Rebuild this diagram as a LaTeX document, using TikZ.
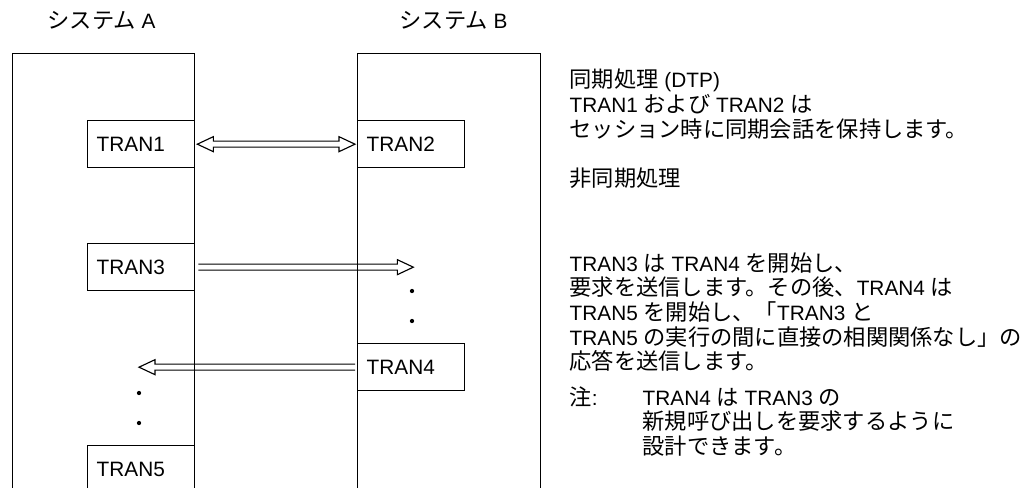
\documentclass[tikz,border=0pt]{standalone}
\usepackage{fontspec}
\setmainfont{Liberation Sans}
\newfontfamily\cjk[Scale=1.07]{Noto Sans CJK JP}
\usetikzlibrary{calc}
\newcommand\jp[1]{{\cjk #1}}
\begin{document}
\begin{tikzpicture}[x=0.75pt,y=-0.75pt, line width=1pt,
  every node/.style={font=\fontsize{15.6}{18.75}\selectfont},
  frame/.style={draw, anchor=north west, inner sep=0pt, minimum height=335.25pt},
  tbox/.style={draw, fill=white, anchor=north west, minimum height=35.25pt, minimum width=80.25pt,
     inner xsep=6.75pt, inner ysep=0pt, text width=66.75pt, align=left},
  txt/.style={anchor=base west, inner sep=0pt},
  title/.style={anchor=base, inner sep=0pt},
  dot/.style={circle, fill, inner sep=0pt, minimum size=3.2pt},
  hollow/.style={line width=0.85pt, line join=miter}
]
\useasboundingbox (0,0) rectangle (1024,487);
\clip (0,0) rectangle (1024,487);

% titles
\node[title] (ta) at (101.5,28.5) {\jp{システム} A};
\node[title] (tb) at (453.5,28.5) {\jp{システム} B};

% system frames
\node[frame, minimum width=136.5pt] (sysA) at (12,53) {};
\node[frame, minimum width=137.25pt] (sysB) at (357,53) {};

% transaction boxes
\node[tbox] (t1) at (87,120) {TRAN1};
\node[tbox] (t2) at (357,120) {TRAN2};
\node[tbox] (t3) at (87,243) {TRAN3};
\node[tbox] (t4) at (357,343) {TRAN4};
\node[tbox] (t5) at (87,445) {TRAN5};

% connector anchors
\coordinate (a1) at ($(t1.east)+(2,0)$);
\coordinate (b1) at ($(t2.west)+(-2,0)$);
\coordinate (a3) at ($(t3.east)+(3,0)$);
\coordinate (b3) at ($(t3.east)+(218,0)$);
\coordinate (a4) at ($(t4.west)+(-2,0)$);
\coordinate (b4) at ($(t4.west)+(-218,0)$);

% TRAN1 <-> TRAN2
\draw[hollow] ($(a1)+(16,-3)$) -- ($(a1)+(16,-7.5)$) -- (a1) -- ($(a1)+(16,7.5)$) -- ($(a1)+(16,3)$)
  -- ($(b1)+(-16,3)$) -- ($(b1)+(-16,7.5)$) -- (b1) -- ($(b1)+(-16,-7.5)$) -- ($(b1)+(-16,-3)$) -- cycle;
% TRAN3 ->
\draw[hollow] ($(a3)+(0,-3)$) -- ($(b3)+(-16,-3)$) -- ($(b3)+(-16,-7.5)$) -- (b3)
  -- ($(b3)+(-16,7.5)$) -- ($(b3)+(-16,3)$) -- ($(a3)+(0,3)$);
% <- TRAN4
\draw[hollow] ($(a4)+(0,-3)$) -- ($(b4)+(16,-3)$) -- ($(b4)+(16,-7.5)$) -- (b4)
  -- ($(b4)+(16,7.5)$) -- ($(b4)+(16,3)$) -- ($(a4)+(0,3)$);

% dots
\node[dot] (d1) at (412,291) {};
\node[dot] (d2) at (412,321) {};
\node[dot] (d3) at (139,393) {};
\node[dot] (d4) at (139,423) {};

% explanatory text
\node[txt] (l1) at (569,87) {\jp{同期処理} (DTP)};
\node[txt] (l2) at (569,112) {TRAN1 \jp{および} TRAN2 \jp{は}};
\node[txt] (l3) at (569,137) {\jp{セッション時に同期会話を保持します。}};
\node[txt] (l4) at (569,186.5) {\jp{非同期処理}};

\node[txt] (m1) at (569,271) {TRAN3 \jp{は} TRAN4 \jp{を開始し、}};
\node[txt] (m2) at (569,295.5) {\jp{要求を送信します。その後、}TRAN4 \jp{は}};
\node[txt] (m3) at (569,320) {TRAN5 \jp{を開始し、「}TRAN3 \jp{と}};
\node[txt] (m4) at (569,345) {TRAN5 \jp{の実行の間に直接の相関関係なし」の}};
\node[txt] (m5) at (569,369.5) {\jp{応答を送信します。}};

\node[txt] (n0) at (569,405) {\jp{注}:};
\node[txt] (n1) at (642,405) {TRAN4 \jp{は} TRAN3 \jp{の}};
\node[txt] (n2) at (642,429.5) {\jp{新規呼び出しを要求するように}};
\node[txt] (n3) at (642,454) {\jp{設計できます。}};
\end{tikzpicture}
\end{document}
